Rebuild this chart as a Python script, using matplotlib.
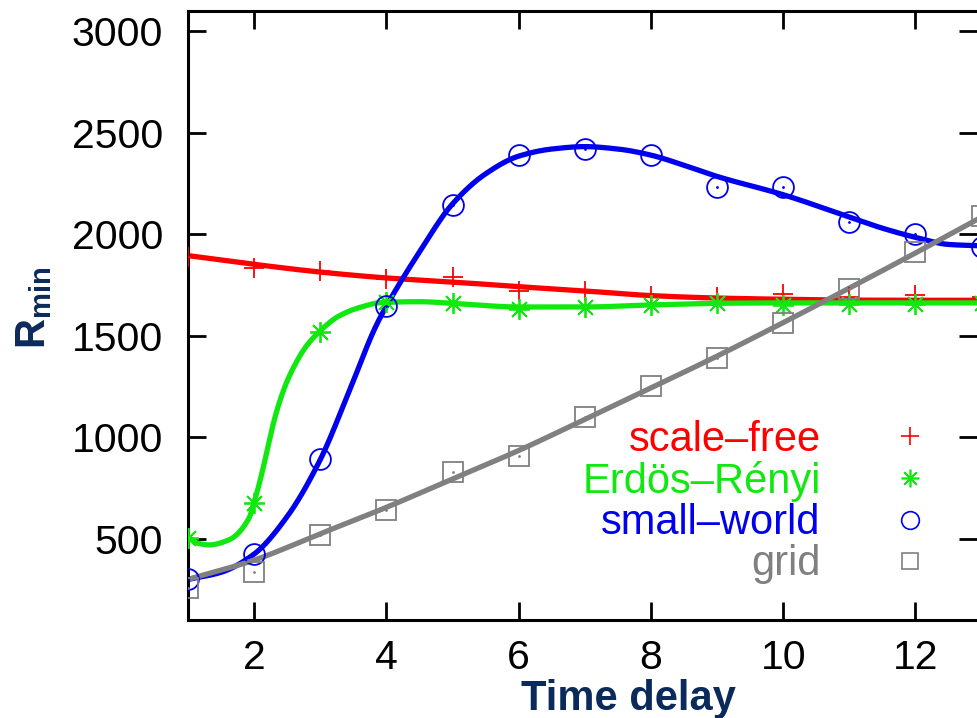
import numpy as np
import matplotlib
matplotlib.use("Agg")
import matplotlib.pyplot as plt
from matplotlib.lines import Line2D

# ---------------- data ----------------
delay = [1, 2, 3, 4, 5, 6, 7, 8, 9, 10, 11, 12, 13]

sf_pts = [1890, 1834, 1819, 1780, 1790, 1720, 1720, 1696, 1690, 1706, 1690, 1700, 1690]
er_pts = [505, 678, 1518, 1665, 1660, 1631, 1641, 1651, 1661, 1651, 1656, 1656, 1660]
sw_pts = [302, 425, 895, 1646, 2145, 2392, 2420, 2392, 2234, 2234, 2061, 2002, 1938]
gr_pts = [258, 337, 520, 643, 831, 910, 1098, 1251, 1390, 1562, 1730, 1915, 2090]

# fitted curves
sf_fit_x = [1, 2, 3, 4, 5, 6, 7, 8, 9, 10, 11, 12, 13]
sf_fit_y = [1895, 1852, 1814, 1785, 1765, 1742, 1721, 1698, 1686, 1680, 1676, 1675, 1675]

er_fit_x = [1, 1.15, 1.32, 1.62, 1.92, 2.0, 2.1, 2.2, 2.3, 2.4, 2.53, 2.78, 3.0, 3.28,
            3.6, 3.93, 4.5, 5, 6, 7, 8, 9, 10, 11, 12, 13]
er_fit_y = [510, 478, 470, 495, 600, 680, 800, 940, 1080, 1190, 1300, 1445, 1525, 1597,
            1640, 1664, 1668, 1660, 1642, 1642, 1652, 1660, 1662, 1662, 1662, 1662]

sw_fit_x = [1, 1.5, 2, 2.5, 3, 3.43, 3.84, 4, 4.5, 5, 5.5, 6, 6.5, 7, 7.5, 8, 8.5, 9,
            10, 11, 11.5, 12, 12.5, 13]
sw_fit_y = [300, 335, 425, 610, 890, 1221, 1547, 1646, 1913, 2150, 2298, 2385, 2420, 2432,
            2420, 2390, 2340, 2285, 2195, 2085, 2030, 1985, 1950, 1943]

gr_fit_x = [1, 2, 3, 4, 5, 6, 7, 8, 9, 10, 11, 12, 13]
gr_fit_y = [300, 395, 525, 655, 795, 935, 1088, 1243, 1400, 1565, 1735, 1908, 2085]

labels = ["scale\u2013free", "Erd\u00f6s\u2013R\u00e9nyi", "small\u2013world", "grid"]
colors = ["#ff0000", "#10e810", "#0000ee", "#808080"]

x_ticks = [2, 4, 6, 8, 10, 12]
y_ticks = [500, 1000, 1500, 2000, 2500, 3000]


def pchip(x, y, xs):
    x = np.asarray(x, float)
    y = np.asarray(y, float)
    h = np.diff(x)
    d = np.diff(y) / h
    n = len(x)
    m = np.zeros(n)
    for k in range(1, n - 1):
        if d[k - 1] * d[k] > 0:
            w1 = 2 * h[k] + h[k - 1]
            w2 = h[k] + 2 * h[k - 1]
            m[k] = (w1 + w2) / (w1 / d[k - 1] + w2 / d[k])
    m[0] = d[0]
    m[-1] = d[-1]
    idx = np.clip(np.searchsorted(x, xs) - 1, 0, n - 2)
    t = (xs - x[idx]) / h[idx]
    h00 = 2 * t**3 - 3 * t**2 + 1
    h10 = t**3 - 2 * t**2 + t
    h01 = -2 * t**3 + 3 * t**2
    h11 = t**3 - t**2
    return h00 * y[idx] + h10 * h[idx] * m[idx] + h01 * y[idx + 1] + h11 * h[idx] * m[idx + 1]


plt.rcParams["font.family"] = ["Liberation Sans", "DejaVu Sans"]
plt.rcParams["mathtext.fontset"] = "custom"
plt.rcParams["mathtext.rm"] = "Liberation Sans:bold"
plt.rcParams["mathtext.bf"] = "Liberation Sans:bold"
plt.rcParams["mathtext.it"] = "Liberation Sans:bold"

fig = plt.figure(figsize=(9.77, 7.18), dpi=100)
ax = fig.add_axes([188 / 977, 98 / 718, 1 - 188 / 977, (620 - 11) / 718])

xs = np.linspace(1, 13, 600)
fits = [(sf_fit_x, sf_fit_y), (er_fit_x, er_fit_y), (sw_fit_x, sw_fit_y), (gr_fit_x, gr_fit_y)]
pts = [sf_pts, er_pts, sw_pts, gr_pts]
markers = ["+", (8, 2, 0), "o", "s"]
msizes = [15, 15, 15, 14]

order = [3, 0, 1, 2]
for i in order:
    fx, fy = fits[i]
    ax.plot(xs, pchip(fx, fy, xs), color=colors[i], lw=3.8, zorder=2 + i * 0.1,
            solid_capstyle="round")

for i in range(4):
    ax.plot(delay, pts[i], ls="none", marker=markers[i], ms=msizes[i],
            mfc="none", mec=colors[i], mew=1.3, zorder=3)
    if i >= 2:
        ax.plot(delay, pts[i], ls="none", marker=".", ms=2, color=colors[i], zorder=3)

ax.set_xlim(1, 12.93)
ax.set_ylim(100, 3100)
ax.set_xticks(x_ticks)
ax.set_yticks(y_ticks)
ax.tick_params(direction="in", length=13, width=2.0, labelsize=29.5,
               top=True, right=True, colors="black")
ax.tick_params(axis="y", pad=18)
ax.tick_params(axis="x", pad=14)
for s in ["left", "bottom", "top"]:
    ax.spines[s].set_linewidth(2.2)
ax.spines["right"].set_visible(False)

ax.set_xlabel("Time delay", fontsize=30, fontweight="bold", color="#0b2a5c")
ax.xaxis.set_label_coords((628 - 188) / 789, (620 - 679) / 609)
ax.set_ylabel(r"$\mathbf{R_{min}}$", fontsize=30, color="#0b2a5c")
ax.yaxis.set_label_coords((54 - 188) / 789, (620 - 308) / 609)

handles = []
for i in range(4):
    handles.append(Line2D([], [], ls="none", marker=markers[i], ms=msizes[i] * 0.85,
                          mfc="none", mec=colors[i], mew=1.2))
leg = ax.legend(handles, labels, markerfirst=False, frameon=False, fontsize=30,
                labelcolor=colors, handlelength=1.0, handletextpad=1.65,
                labelspacing=0.03, borderpad=0, borderaxespad=0,
                loc="center right",
                bbox_to_anchor=(931 / 977, 1 - 502 / 718),
                bbox_transform=fig.transFigure)

fig.savefig("out.png", dpi=100)
